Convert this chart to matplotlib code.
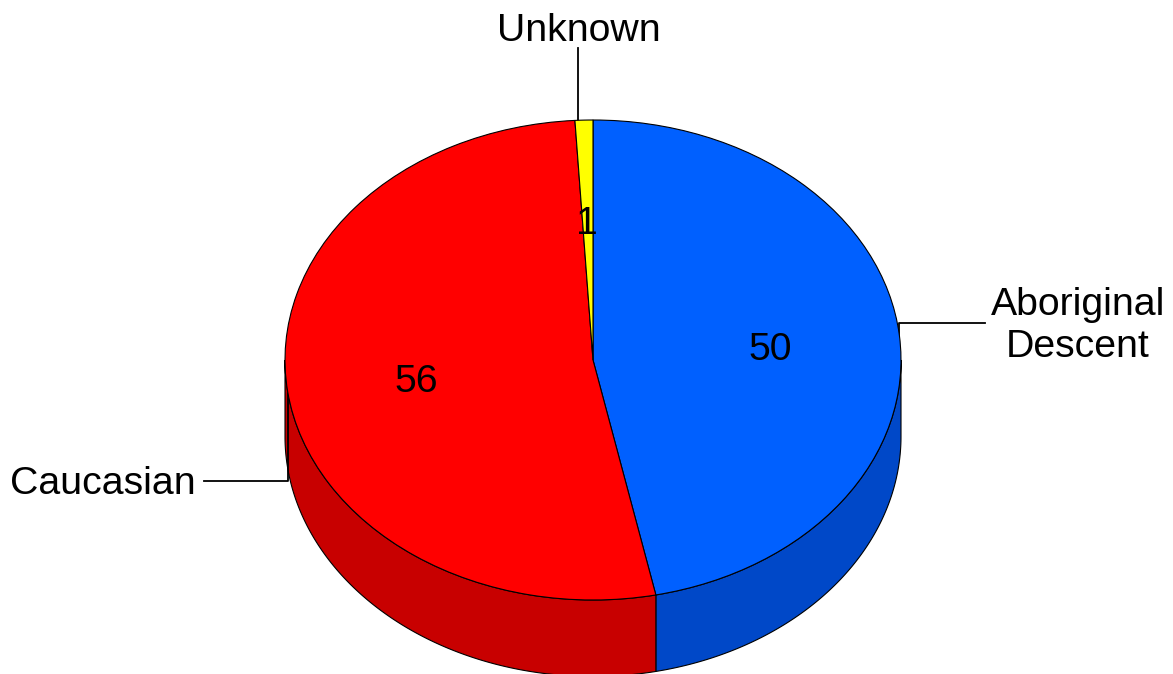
import numpy as np
import matplotlib
matplotlib.use('Agg')
import matplotlib.pyplot as plt

plt.rcParams['font.family'] = ['Liberation Sans', 'DejaVu Sans']

labels = ['Aboriginal\nDescent', 'Caucasian', 'Unknown']
values = [50, 56, 1]
colors = ['#0060ff', '#ff0000', '#ffff00']
side_colors = ['#0048c8', '#c80000', '#c8c800']

# pie geometry in image pixels
cx, cy = 593.0, 360.0
rx, ry = 308.0, 240.0
depth = 76.5 / ry


def px(x, y):
    return (x - cx) / rx, (cy - y) / ry


fig = plt.figure(figsize=(11.73, 6.74), dpi=100)
ax = fig.add_axes([0, 0, 1, 1])

# side wall first, only the part facing the viewer
edges = 90.0 - 360.0 * np.cumsum([0] + values) / np.sum(values)
for i in range(len(values)):
    a0 = max(edges[i + 1], -180.0)
    a1 = min(edges[i], 0.0)
    if a1 <= a0:
        continue
    t = np.radians(np.linspace(a0, a1, 200))
    xs = np.r_[np.cos(t), np.cos(t)[::-1]]
    ys = np.r_[np.sin(t), np.sin(t)[::-1] - depth]
    ax.fill(xs, ys, facecolor=side_colors[i], edgecolor='k', linewidth=0.8, zorder=1)

wedges, _ = ax.pie(values, colors=colors, startangle=90, counterclock=False, radius=1.0,
                   wedgeprops={'edgecolor': 'k', 'linewidth': 0.8, 'zorder': 3})

ax.set_aspect('auto')
ax.set_xlim(px(0, 0)[0], px(1173, 0)[0])
ax.set_ylim(px(0, 674)[1], px(0, 0)[1])
ax.axis('off')

# value labels
fs = 28.3
for v, pos in zip(values, [(770, 350), (416, 382), (587, 224)]):
    ax.text(*px(*pos), str(v), fontsize=fs, ha='center', va='center', zorder=5)

# category labels and leader lines
ax.text(*px(1078, 326), labels[0], fontsize=fs, ha='center', va='center', linespacing=1.22, zorder=5)
ax.text(*px(103, 484), labels[1], fontsize=fs, ha='center', va='center', zorder=5)
ax.text(*px(579, 31), labels[2], fontsize=fs, ha='center', va='center', zorder=5)

# leaders run under the top face where they meet the pie
leaders = [[(899, 336), (899, 323), (985, 323)],
           [(288, 390), (288, 481), (204, 481)],
           [(578, 120), (578, 48)]]
for pts in leaders:
    pp = np.array([px(*p) for p in pts])
    ax.plot(pp[:, 0], pp[:, 1], color='k', linewidth=1.3, zorder=2)

fig.savefig('out.png', dpi=100)
